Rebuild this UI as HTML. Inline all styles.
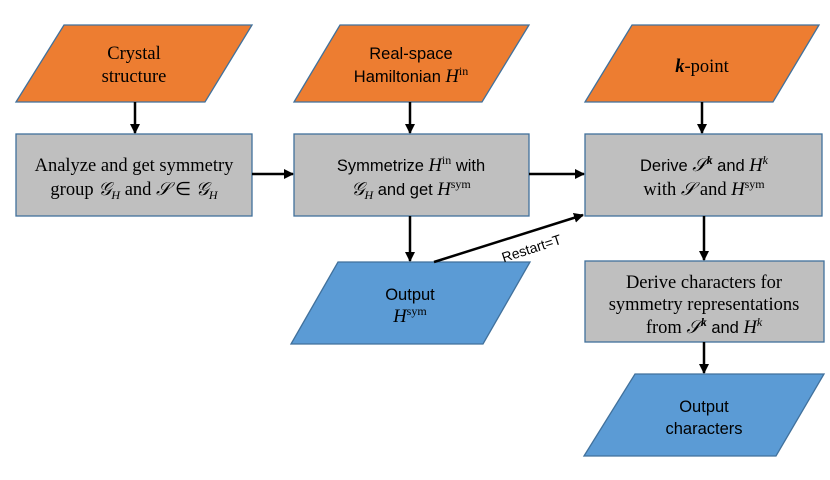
<!DOCTYPE html>
<html><head><meta charset="utf-8"><style>
html,body{margin:0;padding:0;background:#fff}
svg{display:block}
.s{font-family:"Liberation Sans",sans-serif;font-size:16.5px}
.r{font-family:"Liberation Serif",serif;font-size:18.5px}
.i{font-style:italic}
.sup{font-size:12px}
</style></head><body>
<svg width="830" height="480" viewBox="0 0 830 480" xmlns="http://www.w3.org/2000/svg">
<defs><marker id="a" markerWidth="10" markerHeight="10" refX="9" refY="5" orient="auto" markerUnits="userSpaceOnUse"><path d="M0,0 L10,5 L0,10 z" fill="#000"/></marker></defs>
<g stroke="#41719C" stroke-width="1.3">
<polygon points="64,25 252,25 205,102 16,102" fill="#ED7D31"/>
<polygon points="340,25 529,25 482,102 294,102" fill="#ED7D31"/>
<polygon points="632,25 819,25 773,102 585,102" fill="#ED7D31"/>
<rect x="16" y="134" width="236" height="82" fill="#BFBFBF"/>
<rect x="294" y="134" width="235" height="82" fill="#BFBFBF"/>
<rect x="585" y="134" width="237" height="82" fill="#BFBFBF"/>
<polygon points="338,262 530,262 483,344 291,344" fill="#5B9BD5"/>
<rect x="585" y="261" width="239" height="81" fill="#BFBFBF"/>
<polygon points="635,374 824,374 776,456 584,456" fill="#5B9BD5"/>
</g>
<g stroke="#000" stroke-width="2.5" marker-end="url(#a)">
<line x1="135" y1="102" x2="135" y2="133"/>
<line x1="410" y1="102" x2="410" y2="133"/>
<line x1="702" y1="102" x2="702" y2="133"/>
<line x1="252" y1="174" x2="293" y2="174"/>
<line x1="529" y1="174" x2="584" y2="174"/>
<line x1="410" y1="216" x2="410" y2="261"/>
<line x1="704" y1="216" x2="704" y2="260"/>
<line x1="704" y1="342" x2="704" y2="373"/>
<line x1="434" y1="262" x2="583" y2="215"/>
</g>
<g text-anchor="middle" fill="#000">
<text class="r" x="134" y="59">Crystal</text>
<text class="r" x="134" y="82">structure</text>
<text class="s" x="411" y="59">Real-space</text>
<text class="s" x="411" y="82">Hamiltonian <tspan class="r i">H</tspan><tspan class="r sup" dy="-7">in</tspan></text>
<text class="r" x="702" y="72"><tspan font-weight="bold" font-style="italic">k</tspan>-point</text>
<text class="r" x="134" y="171">Analyze and get symmetry</text>
<text class="r" x="134" y="195">group <tspan class="i">𝒢</tspan><tspan class="i sup" dy="4">H</tspan><tspan dy="-4"> and </tspan><tspan class="i">𝒮</tspan> ∈ <tspan class="i">𝒢</tspan><tspan class="i sup" dy="4">H</tspan></text>
<text class="s" x="411" y="171">Symmetrize <tspan class="r i">H</tspan><tspan class="r sup" dy="-7">in</tspan><tspan dy="7"> with</tspan></text>
<text class="s" x="411" y="195"><tspan class="r i">𝒢</tspan><tspan class="r i sup" dy="4">H</tspan><tspan dy="-4"> and get </tspan><tspan class="r i">H</tspan><tspan class="r sup" dy="-7">sym</tspan></text>
<text class="s" x="704" y="171">Derive <tspan class="r i">𝒮</tspan><tspan class="r sup" font-weight="bold" font-style="italic" dy="-7">k</tspan><tspan dy="7"> and </tspan><tspan class="r i">H</tspan><tspan class="r i sup" dy="-7">k</tspan></text>
<text class="r" x="704" y="195">with <tspan class="i">𝒮</tspan> and  <tspan class="i">H</tspan><tspan class="sup" dy="-7">sym</tspan></text>
<text class="s" x="410" y="300">Output</text>
<text class="r" x="410" y="322"><tspan class="i">H</tspan><tspan class="sup" dy="-7">sym</tspan></text>
<text class="r" x="704" y="288">Derive characters for</text>
<text class="r" x="704" y="310">symmetry representations</text>
<text class="r" x="704" y="333">from <tspan class="i">𝒮</tspan><tspan class="sup" font-weight="bold" font-style="italic" dy="-7">k</tspan><tspan class="s" dy="7"> and </tspan><tspan class="i">H</tspan><tspan class="i sup" dy="-7">k</tspan></text>
<text class="s" x="704" y="412">Output</text>
<text class="s" x="704" y="434">characters</text>
<text class="s" style="font-size:14px" x="0" y="0" transform="translate(533,253) rotate(-18)">Restart=T</text>
</g>
</svg>
</body></html>
